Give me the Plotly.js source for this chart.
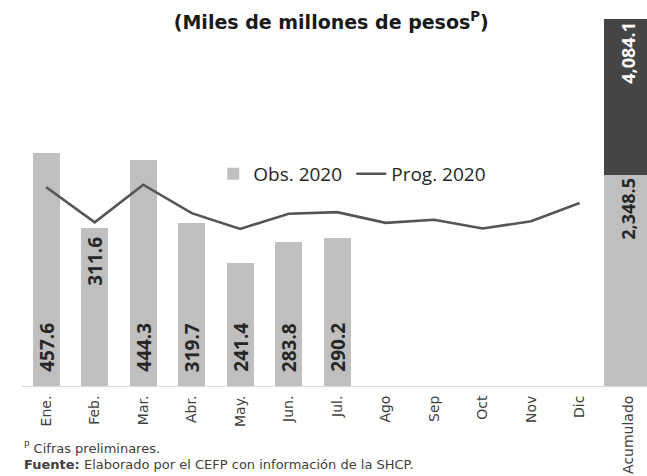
<!DOCTYPE html>
<html>
<head>
<meta charset="utf-8">
<script src="https://cdn.plot.ly/plotly-3.0.1.min.js"></script>
<style>
  html, body { margin: 0; padding: 0; background: #fff; }
  #chart { width: 647px; height: 476px; }
</style>
</head>
<body>
<div id="chart"></div>
<script>
// Meses y valores (miles de millones de pesos)
var meses = ['Ene.', 'Feb.', 'Mar.', 'Abr.', 'May.', 'Jun.', 'Jul.', 'Ago', 'Sep', 'Oct', 'Nov', 'Dic'];
var mesesObs = ['Ene.', 'Feb.', 'Mar.', 'Abr.', 'May.', 'Jun.', 'Jul.'];
var obs2020 = [457.6, 311.6, 444.3, 319.7, 241.4, 283.8, 290.2];
var prog2020 = [391, 322, 396, 340, 309, 339, 342, 321, 327, 310, 324, 360];
var catAcum = 'Acumulado';
var acumObs = 2348.5;
var acumProg = 4084.1;

var fmt = function(v) {
    return v.toLocaleString('en-US', { minimumFractionDigits: 1, maximumFractionDigits: 1 });
};

var gris = '#bfbfbf';
var grisOsc = '#454545';
var labelFont = { family: 'Open Sans', size: 19, color: '#262626', weight: 700 };

var traces = [
    {
        x: mesesObs,
        y: obs2020,
        type: 'bar',
        name: 'Obs. 2020',
        width: 0.56,
        marker: { color: gris },
        hoverinfo: 'none'
    },
    {
        x: meses,
        y: prog2020,
        type: 'scatter',
        mode: 'lines',
        name: 'Prog. 2020',
        line: { color: '#555555', width: 2.6 },
        hoverinfo: 'none'
    },
    // acumulado en su propio eje
    {
        x: [catAcum],
        y: [acumObs],
        type: 'bar',
        yaxis: 'y2',
        width: 1.0,
        showlegend: false,
        marker: { color: gris },
        text: [fmt(acumObs)],
        textposition: 'inside',
        insidetextanchor: 'end',
        textangle: -90,
        textfont: { family: 'Open Sans', size: 18, color: '#262626', weight: 700 },
        hoverinfo: 'none'
    },
    {
        x: [catAcum],
        y: [acumProg - acumObs],
        type: 'bar',
        yaxis: 'y2',
        width: 1.0,
        showlegend: false,
        marker: { color: grisOsc },
        text: [fmt(acumProg)],
        textposition: 'inside',
        insidetextanchor: 'end',
        textangle: -90,
        textfont: { family: 'Open Sans', size: 18, color: '#ffffff', weight: 700 },
        hoverinfo: 'none'
    }
];

// etiquetas de las barras mensuales (Feb. va arriba)
var annotations = mesesObs.map(function(m, i) {
    var arriba = (m === 'Feb.');
    return {
        x: m, y: arriba ? obs2020[i] : 0,
        xref: 'x', yref: 'y',
        text: fmt(obs2020[i]),
        textangle: -90,
        showarrow: false,
        xanchor: 'center',
        yanchor: arriba ? 'top' : 'bottom',
        yshift: arriba ? -7 : 12,
        font: labelFont
    };
});

annotations.push({
    xref: 'paper', yref: 'paper', x: 0.0, y: -0.17,
    xanchor: 'left', yanchor: 'middle', align: 'left',
    showarrow: false,
    text: '<sup>P</sup> Cifras preliminares.',
    font: { family: 'DejaVu Sans', size: 13, color: '#404040' }
});
annotations.push({
    xref: 'paper', yref: 'paper', x: 0.0, y: -0.213,
    xanchor: 'left', yanchor: 'middle', align: 'left',
    showarrow: false,
    text: '<b>Fuente:</b> Elaborado por el CEFP con información de la SHCP.',
    font: { family: 'DejaVu Sans', size: 13, color: '#404040' }
});

var layout = {
    width: 647,
    height: 476,
    margin: { l: 22, r: 0, t: 19, b: 90 },
    paper_bgcolor: '#ffffff',
    plot_bgcolor: '#ffffff',
    barmode: 'stack',
    title: {
        text: '<b>(Miles de millones de pesos<sup>P</sup>)</b>',
        font: { family: 'DejaVu Sans', size: 19, color: '#1a1a1a' },
        x: 0.512, xanchor: 'center',
        y: 0.954, yanchor: 'middle'
    },
    xaxis: {
        type: 'category',
        categoryorder: 'array',
        categoryarray: meses.concat([catAcum]),
        range: [-0.5, 12.39],
        tickangle: -90,
        ticks: '',
        ticklabelstandoff: 3,
        tickfont: { family: 'DejaVu Sans', size: 14, color: '#404040' },
        showline: true,
        linecolor: '#d9d9d9',
        linewidth: 1,
        showgrid: false,
        zeroline: false
    },
    yaxis: {
        range: [0, 722],
        visible: false,
        showgrid: false,
        zeroline: false
    },
    yaxis2: {
        range: [0, acumProg],
        overlaying: 'y',
        side: 'right',
        visible: false,
        showgrid: false,
        zeroline: false
    },
    showlegend: true,
    legend: {
        orientation: 'h',
        x: 0.306, xanchor: 'left',
        y: 0.578, yanchor: 'middle',
        entrywidth: 93,
        bgcolor: 'rgba(255,255,255,0)',
        font: { family: 'Open Sans', size: 19, color: '#262626' },
        traceorder: 'normal'
    },
    annotations: annotations
};

Plotly.newPlot('chart', traces, layout, { displayModeBar: false, staticPlot: true });
</script>
</body>
</html>
